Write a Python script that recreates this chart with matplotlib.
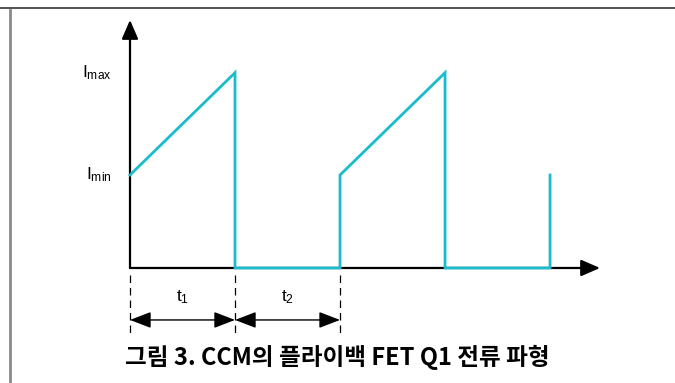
import matplotlib.pyplot as plt
from matplotlib.lines import Line2D

plt.rcParams['font.family'] = ['Liberation Sans', 'DejaVu Sans']
plt.rcParams['mathtext.fontset'] = 'custom'
plt.rcParams['mathtext.rm'] = 'Liberation Sans'
plt.rcParams['mathtext.it'] = 'Liberation Sans'

# switch current of the flyback FET, one unit = one switching interval
i_min = 1.0
i_max = 2.1
t_wave = [0, 1, 1, 2, 2, 3, 3, 4, 4]
i_wave = [i_min, i_max, 0, 0, i_min, i_max, 0, 0, i_min]

level_labels = [r'$\mathrm{I_{max}}$', r'$\mathrm{I_{min}}$']
level_values = [i_max, i_min]
interval_labels = [r'$\mathrm{t_1}$', r'$\mathrm{t_2}$']
interval_edges = [0, 1, 2]
caption = '그림 3. CCM의 플라이백 FET Q1 전류 파형'

wave_color = '#19BCCB'

fig = plt.figure(figsize=(6.75, 3.83), dpi=100)
ax = fig.add_axes([0, 0, 1, 1])
ax.set_xlim(-1.238, 5.190)
ax.set_ylim(-1.237, 2.882)
ax.axis('off')

# frame lines
fig.add_artist(Line2D([0, 1], [0.979, 0.979], color='#333333', lw=1.2,
                      transform=fig.transFigure))
fig.add_artist(Line2D([0.0148, 0.0148], [0, 0.975], color='#8a8a8a', lw=2.0,
                      transform=fig.transFigure))

# axes with arrow heads
arrow = dict(arrowstyle='-|>,head_length=1.15,head_width=0.5', color='black',
             lw=1.6, shrinkA=0, shrinkB=0)
ax.annotate('', xy=(0, 2.667), xytext=(0, 0), arrowprops=arrow)
ax.annotate('', xy=(4.476, 0), xytext=(0, 0), arrowprops=arrow)

ax.plot(t_wave, i_wave, color=wave_color, lw=2.0, solid_joinstyle='miter',
        zorder=3)

for lab, val in zip(level_labels, level_values):
    ax.text(-0.17, val, lab, ha='right', va='center', fontsize=12.5)

for x in interval_edges:
    ax.plot([x, x], [-0.075, -0.70], color='black', lw=0.9,
            dashes=(6, 4), zorder=2)

dbl = dict(arrowstyle='<|-|>,head_length=1.3,head_width=0.5', color='black',
           lw=1.0, shrinkA=0, shrinkB=0)
for lab, a, b in zip(interval_labels, interval_edges[:-1], interval_edges[1:]):
    ax.annotate('', xy=(b, -0.559), xytext=(a, -0.559), arrowprops=dbl)
    ax.text((a + b) / 2, -0.31, lab, ha='center', va='center', fontsize=12.5)

fig.text(0.5, 0.066, caption, ha='center', va='center', fontsize=17,
         fontweight='bold', family=['Noto Sans CJK KR', 'DejaVu Sans'])

fig.savefig('out.png', dpi=100)
